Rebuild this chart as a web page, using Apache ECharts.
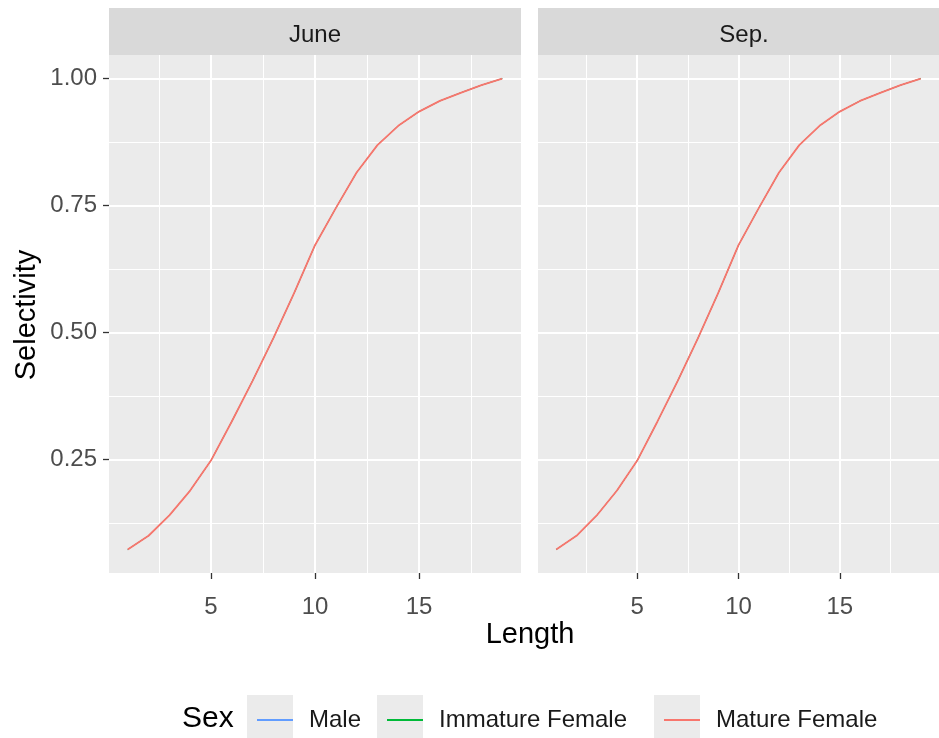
<!DOCTYPE html>
<html>
<head>
<meta charset="utf-8">
<script src="https://cdn.jsdelivr.net/npm/echarts@6/dist/echarts.min.js"></script>
<style>
html,body{margin:0;padding:0;background:#fff;}
#chart{width:939px;height:738px;}
</style>
</head>
<body>
<div id="chart"></div>
<script>
// ---- data ----
var panels = ['June', 'Sep.'];
var sexes = ['Male', 'Immature Female', 'Mature Female'];
var lengths = [1,2,3,4,5,6,7,8,9,10,11,12,13,14,15,16,17,18,19];
var juneMale     = [0.073,0.100,0.140,0.189,0.248,0.325,0.405,0.489,0.578,0.672,0.745,0.815,0.869,0.907,0.935,0.956,0.972,0.987,1.000];
var juneImmature = [0.073,0.100,0.140,0.189,0.248,0.325,0.405,0.489,0.578,0.672,0.745,0.815,0.869,0.907,0.935,0.956,0.972,0.987,1.000];
var juneMature   = [0.073,0.100,0.140,0.189,0.248,0.325,0.405,0.489,0.578,0.672,0.745,0.815,0.869,0.907,0.935,0.956,0.972,0.987,1.000];
var sepMale      = [0.073,0.100,0.140,0.189,0.248,0.325,0.405,0.489,0.578,0.672,0.745,0.815,0.869,0.907,0.935,0.956,0.972,0.987,1.000];
var sepImmature  = [0.073,0.100,0.140,0.189,0.248,0.325,0.405,0.489,0.578,0.672,0.745,0.815,0.869,0.907,0.935,0.956,0.972,0.987,1.000];
var sepMature    = [0.073,0.100,0.140,0.189,0.248,0.325,0.405,0.489,0.578,0.672,0.745,0.815,0.869,0.907,0.935,0.956,0.972,0.987,1.000];
var xTicks = [5, 10, 15];
var xMinorTicks = [2.5, 7.5, 12.5, 17.5];
var yTicks = [0.25, 0.5, 0.75, 1.0];
var yTickLabels = ['0.25', '0.50', '0.75', '1.00'];
var yMinorTicks = [0.125, 0.375, 0.625, 0.875];

var panelData = [[juneMale, juneImmature, juneMature], [sepMale, sepImmature, sepMature]];
var colors = ['#619CFF', '#00BA38', '#F8766D'];
var lineWidths = [1.0, 1.0, 1.8];
var FONT = '"Liberation Sans", Arial, sans-serif';

var X_MIN = 0.1, X_MAX = 19.9, Y_MIN = 0.0267, Y_MAX = 1.0464;
var gridLefts = [109, 538];
var GRID_TOP = 55, GRID_W = 412, GRID_H = 518;

var grids = [], xAxes = [], yAxes = [], series = [], graphics = [];
panels.forEach(function (p, i) {
  grids.push({left: gridLefts[i], top: GRID_TOP, width: GRID_W, height: GRID_H,
    show: true, backgroundColor: '#EBEBEB', borderWidth: 0, containLabel: false});
  xAxes.push({gridIndex: i, type: 'value', min: X_MIN, max: X_MAX,
    axisLine: {show: false},
    axisTick: {show: true, length: 6, lineStyle: {color: '#333333', width: 1.3}, customValues: xTicks},
    axisLabel: {show: true, customValues: xTicks, fontSize: 24, color: '#4D4D4D', fontFamily: FONT, margin: 22},
    splitLine: {show: true, lineStyle: {color: '#FFFFFF', width: 2}}
  });
  xAxes.push({gridIndex: i, type: 'value', min: X_MIN, max: X_MAX,
    axisLine: {show: false},
    axisTick: {show: false, customValues: xMinorTicks},
    axisLabel: {show: false, customValues: xMinorTicks},
    splitLine: {show: true, lineStyle: {color: '#FFFFFF', width: 1}}
  });
  yAxes.push({gridIndex: i, type: 'value', min: Y_MIN, max: Y_MAX,
    axisLine: {show: false},
    axisTick: {show: i === 0, length: 6, lineStyle: {color: '#333333', width: 1.3}, customValues: yTicks},
    axisLabel: {show: i === 0, customValues: yTicks, fontSize: 24, color: '#4D4D4D', fontFamily: FONT, margin: 12,
      formatter: function (v) { var k = yTicks.indexOf(v); return k >= 0 ? yTickLabels[k] : v.toFixed(2); }},
    splitLine: {show: true, lineStyle: {color: '#FFFFFF', width: 2}}
  });
  yAxes.push({gridIndex: i, type: 'value', min: Y_MIN, max: Y_MAX,
    axisLine: {show: false},
    axisTick: {show: false, customValues: yMinorTicks},
    axisLabel: {show: false, customValues: yMinorTicks},
    splitLine: {show: true, lineStyle: {color: '#FFFFFF', width: 1}}
  });
  sexes.forEach(function (s, j) {
    series.push({
      name: s, type: 'line', xAxisIndex: i * 2, yAxisIndex: i * 2,
      data: lengths.map(function (x, k) { return [x, panelData[i][j][k]]; }),
      showSymbol: false, symbol: 'none', smooth: false,
      color: colors[j],
      lineStyle: {color: colors[j], width: lineWidths[j]},
      z: 3 + j, animation: false, silent: true
    });
  });
  graphics.push({type: 'rect', shape: {x: gridLefts[i], y: 8, width: GRID_W, height: 47},
    style: {fill: '#D9D9D9'}, silent: true});
  graphics.push({type: 'text', x: gridLefts[i] + GRID_W / 2, y: 35,
    style: {text: p, fill: '#1A1A1A', font: '24px ' + FONT, textAlign: 'center', textVerticalAlign: 'middle'}});
});

graphics.push({type: 'text', x: 530, y: 635,
  style: {text: 'Length', fill: '#000000', font: '29px ' + FONT, textAlign: 'center', textVerticalAlign: 'middle'}});
graphics.push({type: 'text', x: 27, y: 315, rotation: Math.PI / 2,
  style: {text: 'Selectivity', fill: '#000000', font: '29px ' + FONT, textAlign: 'center', textVerticalAlign: 'middle'}});
graphics.push({type: 'text', x: 182, y: 719,
  style: {text: 'Sex', fill: '#000000', font: '30px ' + FONT, textAlign: 'left', textVerticalAlign: 'middle'}});
var keyLefts = [247, 377, 654];
keyLefts.forEach(function (kx) {
  graphics.push({type: 'rect', shape: {x: kx, y: 695, width: 46, height: 46}, style: {fill: '#EBEBEB'}, silent: true});
});

var legends = sexes.map(function (s, j) {
  return {
    data: [s], left: keyLefts[j] + 5, top: 700, orient: 'horizontal',
    icon: 'rect', itemWidth: 36, itemHeight: 2, selectedMode: false, z: 10,
    textStyle: {fontSize: 24, color: '#1A1A1A', fontFamily: FONT, padding: [0, 0, 0, 11], lineHeight: 30}
  };
});

var chart = echarts.init(document.getElementById('chart'), null, {renderer: 'canvas'});
chart.setOption({
  animation: false,
  backgroundColor: '#FFFFFF',
  textStyle: {fontFamily: FONT},
  grid: grids,
  xAxis: xAxes,
  yAxis: yAxes,
  legend: legends,
  graphic: {elements: graphics},
  series: series
});
</script>
</body>
</html>
